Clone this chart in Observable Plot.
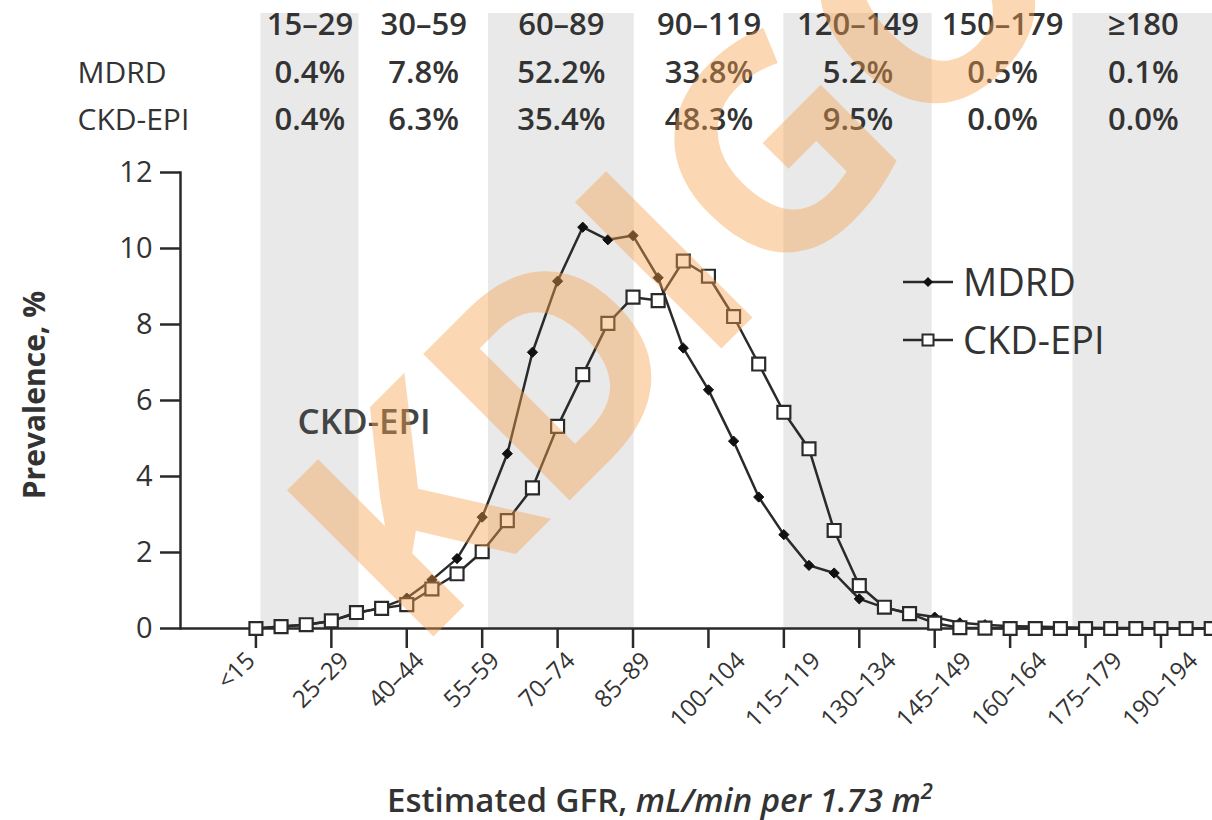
<!DOCTYPE html>
<html><head><meta charset="utf-8">
<script src="https://cdn.jsdelivr.net/npm/d3@7"></script>
<script src="https://cdn.jsdelivr.net/npm/@observablehq/plot@0.6"></script>
<style>
html,body{margin:0;padding:0;background:#fff;}
#chart{width:1212px;height:820px;position:relative;overflow:hidden;}
</style></head><body><div id="chart"></div>
<script>
// ---- data ----
const bins = ["<15","15–19","20–24","25–29","30–34","35–39","40–44","45–49","50–54","55–59",
  "60–64","65–69","70–74","75–79","80–84","85–89","90–94","95–99","100–104","105–109",
  "110–114","115–119","120–124","125–129","130–134","135–139","140–144","145–149","150–154","155–159",
  "160–164","165–169","170–174","175–179","180–184","185–189","190–194","195–199","≥200"];
const mdrd = [0.0,0.05,0.1,0.2,0.4,0.55,0.8,1.28,1.84,2.93,
  4.6,7.27,9.14,10.56,10.23,10.34,9.23,7.38,6.28,4.93,
  3.46,2.47,1.66,1.46,0.78,0.55,0.4,0.3,0.15,0.1,
  0.06,0.05,0.03,0.02,0.01,0.01,0.0,0.0,0.0];
const ckdepi = [0.0,0.05,0.1,0.2,0.42,0.53,0.63,1.04,1.44,2.02,
  2.84,3.7,5.32,6.68,8.03,8.72,8.63,9.67,9.27,8.21,
  6.96,5.69,4.73,2.58,1.13,0.56,0.39,0.14,0.02,0.01,
  0.0,0.0,0.0,0.0,0.0,0.0,0.0,0.0,0.0];
const tickBins = [0,3,6,9,12,15,18,21,24,27,30,33,36];
const yTicks = [0,2,4,6,8,10,12];
// eGFR categories of the header table (extent in bin-index units)
const categories = ["15–29","30–59","60–89","90–119","120–149","150–179","≥180"];
const catStart = [0.2, 4.1, 9.25, 15.05, 21.0, 26.9, 32.5];
const catEnd   = [4.1, 9.25, 15.05, 21.0, 26.9, 32.5, 38.1];
const catShaded = [true,false,true,false,true,false,true];
const mdrdShare = ["0.4%","7.8%","52.2%","33.8%","5.2%","0.5%","0.1%"];
const ckdShare  = ["0.4%","6.3%","35.4%","48.3%","9.5%","0.0%","0.0%"];
const seriesNames = ["MDRD","CKD-EPI"];

// ---- tables ----
const rows = bins.map((b,i)=>({i, bin:b, mdrd:mdrd[i], ckd:ckdepi[i]}));
const cats = categories.map((c,k)=>({name:c, x1:catStart[k], x2:catEnd[k], shaded:catShaded[k], m:mdrdShare[k], c:ckdShare[k]}));

// ---- layout ----
const W=1212, H=820, mL=180, mR=0, mT=172, mB=192;
const pxPerUnit = (H-mT-mB)/12;
const bandTop = 12 + (mT-13)/pxPerUnit;
const ink = "#2a2a2a";
const font = "Open Sans";
const headTxt = {frameAnchor:"top", lineAnchor:"middle", fontSize:31, fontWeight:600, fill:"#333"};

const plot = Plot.plot({
  width: W, height: H,
  marginLeft: mL, marginRight: mR, marginTop: mT, marginBottom: mB,
  style: {fontFamily: font, color: "#333", background: "#fff", overflow: "visible"},
  x: {domain: [-3, 38.05]},
  y: {domain: [0, 12]},
  marks: [
    Plot.rect(cats.filter(d=>d.shaded), {x1:"x1", x2:"x2", y1:0, y2:bandTop, fill:"#e9e9e9"}),
    Plot.text(cats, {x:d=>(d.x1+d.x2)/2, dy:-147, text:"name", ...headTxt}),
    Plot.text(cats, {x:d=>(d.x1+d.x2)/2, dy:-99, text:"m", ...headTxt}),
    Plot.text(cats, {x:d=>(d.x1+d.x2)/2, dy:-52, text:"c", ...headTxt}),
    Plot.text([seriesNames[0]], {frameAnchor:"top-left", lineAnchor:"middle", dx:-103, dy:-99, text:d=>d, textAnchor:"start", fontSize:30, fill:"#333"}),
    Plot.text([seriesNames[1]], {frameAnchor:"top-left", lineAnchor:"middle", dx:-103, dy:-52, text:d=>d, textAnchor:"start", fontSize:30, fill:"#333"}),
    Plot.text([seriesNames[1]], {frameAnchor:"top-left", lineAnchor:"middle", dx:117, dy:250, text:d=>d, textAnchor:"start", fontSize:35, fontWeight:600, fill:"#444"}),
    Plot.frame({anchor:"left", stroke:ink, strokeWidth:2.5}),
    Plot.ruleY([0], {stroke:ink, strokeWidth:2.5}),
    Plot.axisY({ticks:yTicks, tickSize:20, tickPadding:8, fontSize:29, label:null, stroke:ink, strokeWidth:2.5}),
    Plot.axisX({ticks:tickBins, tickFormat:()=>"", tickSize:20, label:null, stroke:ink, strokeWidth:2.5}),
    Plot.line(rows, {x:"i", y:"mdrd", stroke:ink, strokeWidth:2.5}),
    Plot.dot(rows, {x:"i", y:"mdrd", symbol:"diamond2", r:4.6, fill:"#111", stroke:"#111", strokeWidth:1}),
    Plot.line(rows, {x:"i", y:"ckd", stroke:ink, strokeWidth:2.5}),
    Plot.dot(rows, {x:"i", y:"ckd", symbol:"square", r:7.3, fill:"#fff", stroke:ink, strokeWidth:2.2})
  ]
});
document.getElementById("chart").appendChild(plot);

const svg = d3.select(plot);
const xs = plot.scale("x");
// rotated x tick labels
const lab = svg.append("g").attr("font-family", font).attr("font-size", 24).attr("fill", "#333").attr("text-anchor", "start");
tickBins.forEach(i => {
  const t = lab.append("text").text(bins[i]);
  const L = t.node().getComputedTextLength();
  const sx = xs.apply(i) - 28, sy = 662 + L * Math.SQRT1_2;
  t.attr("transform", `translate(${sx},${sy}) rotate(-45)`);
});
// legend
const leg = svg.append("g").attr("font-family", font).attr("fill", "#333").attr("text-anchor", "start");
[[282, "diamond"], [340, "square"]].forEach(([y, sym], k) => {
  leg.append("line").attr("x1", 903).attr("x2", 953).attr("y1", y).attr("y2", y).attr("stroke", ink).attr("stroke-width", 2.5);
  if (sym === "diamond") {
    leg.append("path").attr("d", d3.symbol(d3.symbolDiamond2, 64)()).attr("transform", `translate(928,${y})`).attr("fill", "#111");
  } else {
    leg.append("rect").attr("x", 922.5).attr("y", y-5.5).attr("width", 11).attr("height", 11).attr("fill", "#fff").attr("stroke", ink).attr("stroke-width", 2);
  }
  leg.append("text").attr("x", 963).attr("y", y).attr("dy", "0.36em").attr("font-size", 38).text(seriesNames[k]);
});
// x-axis title
const xt = svg.append("text").attr("x", 660).attr("y", 800).attr("dy", "0.36em").attr("text-anchor", "middle")
  .attr("font-family", font).attr("font-size", 33).attr("font-weight", 600).attr("fill", "#333");
xt.append("tspan").text("Estimated GFR, ");
xt.append("tspan").attr("font-style", "italic").text("mL/min per 1.73 m");
xt.append("tspan").attr("font-style", "italic").attr("font-size", 22).attr("dy", "-0.6em").text("2");
// y-axis title
svg.append("text").attr("transform", "translate(34,395) rotate(-90)").attr("text-anchor", "middle").attr("dy", "0.36em")
  .attr("font-family", font).attr("font-size", 30).attr("font-weight", 700).attr("fill", "#333").text("Prevalence, %");
// watermark
svg.append("text").attr("transform", "translate(415,655) rotate(-45)").attr("text-anchor", "start").attr("font-family", font)
  .attr("font-size", 290).attr("font-weight", 700).attr("fill", "#f7a24f").attr("opacity", 0.42).text("KDIGO");
</script>
</body></html>
